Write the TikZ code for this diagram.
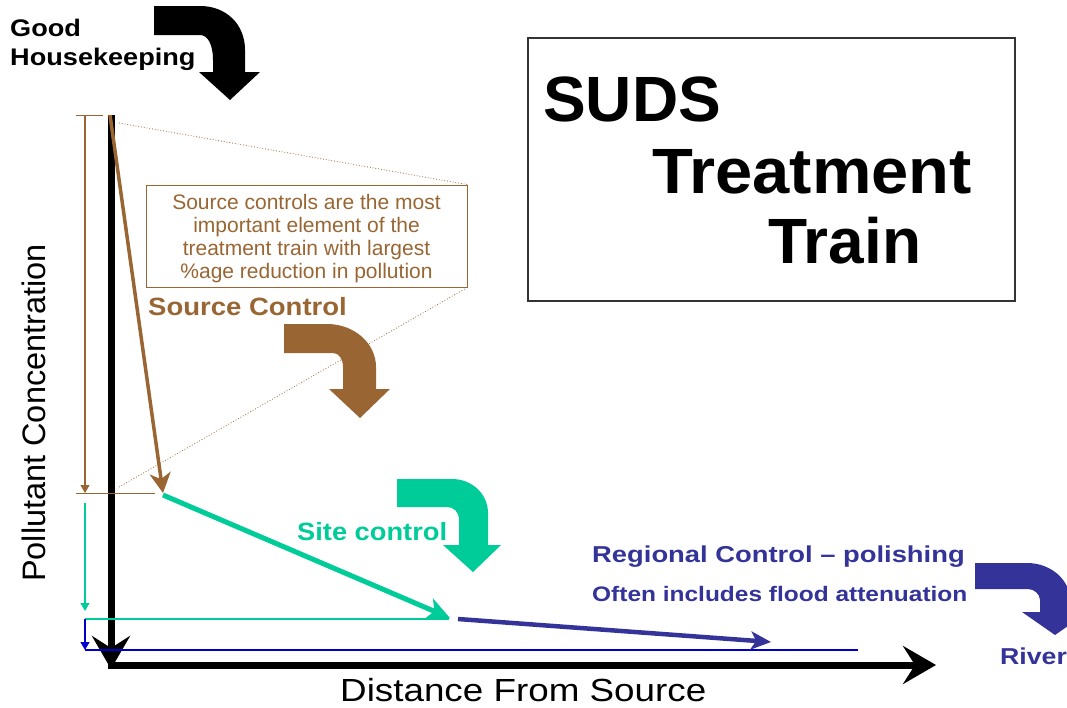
\documentclass[tikz,border=0pt]{standalone}
\usepackage{graphicx}
\usepackage{fontspec}
\setmainfont{Liberation Sans}
\usetikzlibrary{arrows.meta}
\definecolor{srcbrown}{HTML}{996633}
\definecolor{siteteal}{HTML}{00CC99}
\definecolor{regnavy}{HTML}{333399}
\definecolor{dimblue}{HTML}{0000CC}
\newcommand{\fsz}[2]{\fontsize{#1}{#2}\selectfont}
\newcommand{\hstretch}[2]{\scalebox{#1}[1]{#2}}
\begin{document}
\begin{tikzpicture}[x=1pt,y=-1pt,
  lbl/.style={inner sep=0pt, anchor=base west},
  axisline/.style={line width=7pt, -{Stealth[length=33pt,width=38pt,inset=12pt]}},
  dimline/.style={line width=1.2pt, -{Triangle[length=8pt,width=9pt]}},
  tickline/.style={line width=1pt},
  guide/.style={line width=1.4pt},
  dotguide/.style={srcbrown, line width=0.8pt, dotted}
]
\useasboundingbox (0,0) rectangle (1067,707);

% ---- coordinates ----
\coordinate (axtop) at (111,115);
\coordinate (axbot) at (111,669);
\coordinate (axcorner) at (108,665);
\coordinate (axright) at (936,665);
\coordinate (p0) at (110,115);
\coordinate (p1) at (163,493);
\coordinate (p1s) at (163,495);
\coordinate (p2) at (450,618);
\coordinate (p2s) at (458,619);
\coordinate (p3) at (771,642);
\coordinate (dA) at (85,115);
\coordinate (dB) at (85,493);
\coordinate (dC) at (85,503);
\coordinate (dD) at (85,611);
\coordinate (dE) at (85,619);
\coordinate (dF) at (85,650);
\coordinate (tk1a) at (76,115);
\coordinate (tk1b) at (103,115);
\coordinate (tk2a) at (76,493);
\coordinate (tk2b) at (155,493);
\coordinate (tealend) at (449,619);
\coordinate (blueend) at (858,650);
\coordinate (dot1) at (119,123);
\coordinate (dot2) at (119,487);

% ---- bent arrows ----
\fill[black] (154,6) -- (200,6) .. controls (226,6) and (245,24) .. (245,50) -- (245,72) -- (260,72) -- (230,100) -- (199,72) -- (213,72) -- (213,60) .. controls (213,45) and (208,35) .. (200,35) -- (154,35) -- cycle;
\fill[srcbrown] (284,324) -- (327,324) .. controls (354,324) and (376,343) .. (376,367) -- (376,389) -- (390,389) -- (360,418) -- (329,389) -- (343,389) -- (343,367) .. controls (343,359) and (339,353) .. (333,353) -- (284,353) -- cycle;
\fill[siteteal] (397,479) -- (452,479) .. controls (472,479) and (488,494) .. (488,513) -- (488,545) -- (501,545) -- (473,572) -- (443,545) -- (459,545) -- (459,520) .. controls (459,512) and (454,507) .. (447,507) -- (397,507) -- cycle;
\begin{scope}
\clip (0,0) rectangle (1067,707);
\fill[regnavy] (975,563) -- (1027,563) .. controls (1051,563) and (1070,580) .. (1070,600) -- (1070,612) -- (1088,612) -- (1055,635) -- (1022,612) -- (1040,612) -- (1040,600) .. controls (1040,594) and (1034,589) .. (1028,589) -- (975,589) -- cycle;
\end{scope}

% ---- source box and title box ----
\node[draw=srcbrown, line width=0.8pt, minimum width=321pt, minimum height=102pt, inner sep=0pt] (srcbox) at (306.5,236) {};
\node[align=center, text=srcbrown, font=\fsz{21}{23}, inner sep=0pt] (srctext) at (306.5,239)
  {Source controls are the most\\important element of the\\treatment train with largest\\\%age reduction in pollution};
\draw[dotguide] (dot1) -- (srcbox.north east);
\draw[dotguide] (dot2) -- (srcbox.south east);

\node[draw=black!80, line width=1.2pt, minimum width=487pt, minimum height=263pt, inner sep=0pt] (titlebox) at (771.5,169.5) {};
\node[lbl, font=\bfseries\fsz{64}{70}] (suds) at (543,121) {SUDS};
\node[lbl, font=\bfseries\fsz{64}{70}] (treat) at (652,193) {\hstretch{1.045}{Treatment}};
\node[lbl, font=\bfseries\fsz{64}{70}] (train) at (768,263) {Train};

% ---- axes ----
\draw[axisline] (axtop) -- (axbot);
\draw[axisline] (axcorner) -- (axright);

% ---- dimension lines ----
\draw[dimline, srcbrown] (dA) -- (dB);
\draw[tickline, srcbrown] (tk1a) -- (tk1b);
\draw[tickline, srcbrown] (tk2a) -- (tk2b);
\draw[dimline, siteteal] (dC) -- (dD);
\draw[guide, siteteal] (dE) -- (tealend);
\draw[dimline, dimblue] (dE) -- (dF);
\draw[guide, dimblue] (dF) -- (blueend);

% ---- treatment train arrows ----
\draw[srcbrown, line width=3.5pt, -{Stealth[length=20pt,width=21pt,inset=6pt]}] (p0) -- (p1);
\draw[siteteal, line width=5pt, -{Stealth[length=23pt,width=22pt,inset=6pt]}] (p1s) -- (p2);
\draw[regnavy, line width=4.5pt, -{Stealth[length=20pt,width=18pt,inset=5pt]}] (p2s) -- (p3);

% ---- labels ----
\node[lbl, font=\bfseries\fsz{24}{28}] (good) at (10,36) {\hstretch{1.13}{Good}};
\node[lbl, font=\bfseries\fsz{24}{28}] (house) at (10,65) {\hstretch{1.13}{Housekeeping}};
\node[lbl, text=srcbrown, font=\bfseries\fsz{25}{28}] (srcctl) at (148,315) {\hstretch{1.1}{Source Control}};
\node[lbl, inner sep=3pt, fill=white, text=siteteal, font=\bfseries\fsz{25}{28}] (sitectl) at (294,540) {\hstretch{1.09}{Site control}};
\node[lbl, text=regnavy, font=\bfseries\fsz{23}{26}] (regctl) at (592,562) {\hstretch{1.19}{Regional Control -- polishing}};
\node[lbl, text=regnavy, font=\bfseries\fsz{21}{24}] (often) at (592,601) {\hstretch{1.165}{Often includes flood attenuation}};
\node[lbl, text=regnavy, font=\bfseries\fsz{23}{26}] (river) at (1000,664) {\hstretch{1.16}{River}};
\node[lbl, font=\fsz{32}{36}] (distance) at (340,701) {\hstretch{1.15}{Distance From Source}};
\node[inner sep=0pt, anchor=base, rotate=90, font=\fsz{32.5}{36}] (pollut) at (45,413) {Pollutant Concentration};
\end{tikzpicture}
\end{document}
